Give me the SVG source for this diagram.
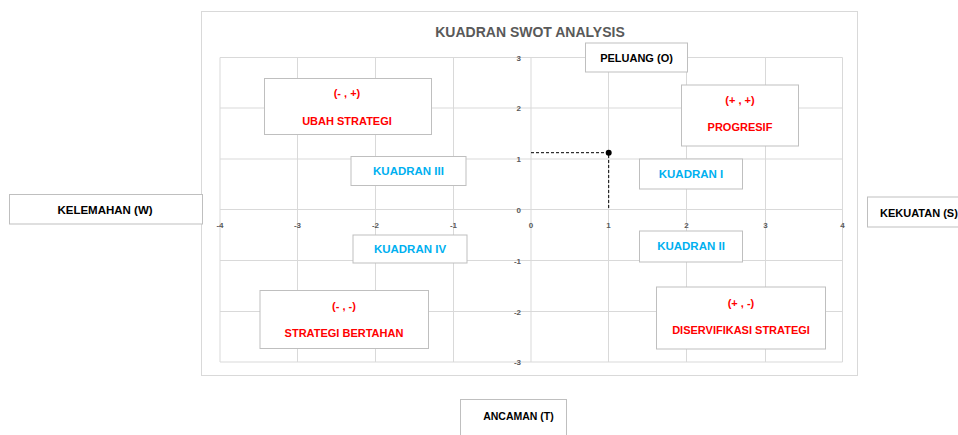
<svg xmlns="http://www.w3.org/2000/svg" width="958" height="435" viewBox="0 0 958 435">
<style>
.bx{fill:#ffffff;stroke:#bfbfbf;stroke-width:1}
.t{font-family:"Liberation Sans",Arial,sans-serif;font-weight:bold;text-anchor:middle}
.blk{fill:#000000;font-size:11px}
.red{fill:#ff0000;font-size:11px}
.cy{fill:#00b0f0;font-size:11.5px}
.grid{stroke:#d9d9d9;stroke-width:1;fill:none}
.tick{font-family:"Liberation Sans",Arial,sans-serif;font-size:8px;fill:#595959;font-weight:bold}
.dash{stroke:#000000;stroke-width:1;stroke-dasharray:3,2;fill:none}
</style>
<rect x="0" y="0" width="958" height="435" fill="#ffffff"/>
<g id="chart">
<rect x="201.5" y="11.5" width="656" height="364" fill="#ffffff" stroke="#d9d9d9"/>
<text class="t" x="530" y="37" style="font-size:14px;fill:#595959">KUADRAN SWOT ANALYSIS</text>
<g class="grid">
<line x1="220" y1="57.5" x2="842.5" y2="57.5"/>
<line x1="220" y1="108" x2="842.5" y2="108"/>
<line x1="220" y1="159" x2="842.5" y2="159"/>
<line x1="220" y1="209.5" x2="842.5" y2="209.5"/>
<line x1="220" y1="260.5" x2="842.5" y2="260.5"/>
<line x1="220" y1="311.5" x2="842.5" y2="311.5"/>
<line x1="220" y1="362" x2="842.5" y2="362"/>
<line x1="220" y1="57.5" x2="220" y2="362"/>
<line x1="297.5" y1="57.5" x2="297.5" y2="362"/>
<line x1="375.5" y1="57.5" x2="375.5" y2="362"/>
<line x1="453.5" y1="57.5" x2="453.5" y2="362"/>
<line x1="531" y1="57.5" x2="531" y2="362"/>
<line x1="608.5" y1="57.5" x2="608.5" y2="362"/>
<line x1="686.5" y1="57.5" x2="686.5" y2="362"/>
<line x1="765.5" y1="57.5" x2="765.5" y2="362"/>
<line x1="842.5" y1="57.5" x2="842.5" y2="362"/>
</g>
<g class="tick" text-anchor="end">
<text x="521" y="60.5">3</text>
<text x="521" y="111">2</text>
<text x="521" y="162">1</text>
<text x="521" y="212.5">0</text>
<text x="521" y="263.5">-1</text>
<text x="521" y="314.5">-2</text>
<text x="521" y="365">-3</text>
</g>
<g class="tick" text-anchor="middle">
<text x="220" y="228">-4</text>
<text x="297.5" y="228">-3</text>
<text x="375.5" y="228">-2</text>
<text x="453.5" y="228">-1</text>
<text x="531" y="228">0</text>
<text x="608.5" y="228">1</text>
<text x="686.5" y="228">2</text>
<text x="765.5" y="228">3</text>
<text x="842.5" y="228">4</text>
</g>
</g>
<g id="connectors">
<polyline class="dash" points="531,152.7 608.7,152.7 608.7,209.5"/>
<circle cx="608.7" cy="152.7" r="3" fill="#000000"/>
</g>
<g id="peluang">
<rect class="bx" x="585.5" y="43" width="102" height="29"/>
<text class="t blk" x="636.5" y="61.5">PELUANG (O)</text>
</g>
<g id="ubah-strategi">
<rect class="bx" x="264.5" y="78.5" width="167" height="56"/>
<text class="t red" x="347" y="97">(- , +)</text>
<text class="t red" x="347" y="125">UBAH STRATEGI</text>
</g>
<g id="progresif">
<rect class="bx" x="681.5" y="85" width="117" height="61"/>
<text class="t red" x="740" y="104">(+ , +)</text>
<text class="t red" x="740" y="131">PROGRESIF</text>
</g>
<g id="kuadran-iii">
<rect class="bx" x="351" y="156.5" width="115" height="29"/>
<text class="t cy" x="408.5" y="175">KUADRAN III</text>
</g>
<g id="kuadran-i">
<rect class="bx" x="639.5" y="159" width="103" height="30"/>
<text class="t cy" x="691" y="178">KUADRAN I</text>
</g>
<g id="kuadran-iv">
<rect class="bx" x="353" y="235" width="114" height="28"/>
<text class="t cy" x="410" y="253">KUADRAN IV</text>
</g>
<g id="kuadran-ii">
<rect class="bx" x="639.5" y="231" width="103" height="31"/>
<text class="t cy" x="691" y="250">KUADRAN II</text>
</g>
<g id="strategi-bertahan">
<rect class="bx" x="260" y="290.5" width="168.5" height="58"/>
<text class="t red" x="344" y="310">(- , -)</text>
<text class="t red" x="344" y="337">STRATEGI BERTAHAN</text>
</g>
<g id="diservifikasi">
<rect class="bx" x="656.5" y="287" width="169" height="62"/>
<text class="t red" x="741" y="306.5">(+ , -)</text>
<text class="t red" x="741" y="333.5">DISERVIFIKASI STRATEGI</text>
</g>
<g id="kelemahan">
<rect class="bx" x="9.5" y="194.5" width="193" height="29.5"/>
<text class="t blk" x="105" y="213.5" style="font-size:11.5px">KELEMAHAN (W)</text>
</g>
<g id="kekuatan">
<rect class="bx" x="867.5" y="197" width="100" height="30"/>
<text class="t blk" x="880" y="216.5" style="text-anchor:start">KEKUATAN (S)</text>
</g>
<g id="ancaman">
<rect class="bx" x="460.5" y="399.5" width="106" height="40"/>
<text class="t blk" x="518.5" y="419.5" style="font-size:10.5px">ANCAMAN (T)</text>
</g>
</svg>
